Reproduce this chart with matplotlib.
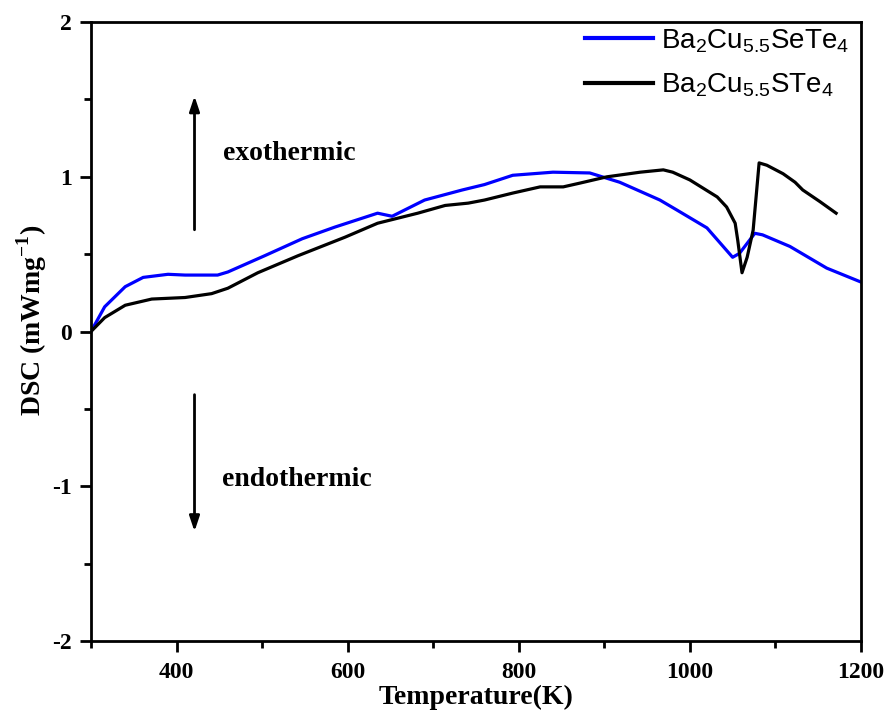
import matplotlib
matplotlib.use("Agg")
import matplotlib.pyplot as plt
from matplotlib.ticker import MultipleLocator

plt.rcParams["axes.unicode_minus"] = False

# ---- data (T in K, DSC in mW/mg) ----
t_sete = [300, 316, 340, 361, 390, 410, 448, 460, 503, 547, 585, 635, 652, 690, 734, 760,
          793, 840, 883, 918, 965, 985, 1020, 1050, 1058, 1076, 1085, 1117, 1160, 1200]
dsc_sete = [0.00, 0.16, 0.29, 0.35, 0.37, 0.365, 0.365, 0.385, 0.49, 0.60, 0.675, 0.765, 0.745, 0.85, 0.915, 0.95,
            1.01, 1.03, 1.025, 0.965, 0.85, 0.785, 0.67, 0.48, 0.505, 0.635, 0.625, 0.55, 0.41, 0.32]

t_ste = [300, 316, 340, 371, 410, 441, 460, 495, 542, 597, 635, 682, 714, 741, 760,
         793, 825, 852, 872, 903, 942, 969, 980, 1000, 1032, 1043, 1053, 1056, 1061, 1067,
         1074, 1081, 1090, 1109, 1123, 1132, 1152, 1171]
dsc_ste = [0.00, 0.09, 0.17, 0.21, 0.22, 0.245, 0.28, 0.38, 0.49, 0.61, 0.70, 0.765, 0.815, 0.83, 0.85,
           0.895, 0.935, 0.935, 0.96, 1.00, 1.03, 1.045, 1.03, 0.98, 0.87, 0.805, 0.70, 0.59, 0.38, 0.48,
           0.655, 1.09, 1.075, 1.02, 0.965, 0.915, 0.84, 0.765]

labels = [r"Ba$_\mathregular{2}$Cu$_\mathregular{5.5}$SeTe$_\mathregular{4}$",
          r"Ba$_\mathregular{2}$Cu$_\mathregular{5.5}$STe$_\mathregular{4}$"]

SERIF = "Liberation Serif"
SANS = "Liberation Sans"

fig = plt.figure(figsize=(8.86, 7.13), dpi=100)
ax = fig.add_axes([0.1027, 0.101, 0.869, 0.868])

ax.plot(t_sete, dsc_sete, color="#0000ff", lw=2.3, label=labels[0])
ax.plot(t_ste, dsc_ste, color="black", lw=2.3, label=labels[1])

ax.set_xlim(300, 1200)
ax.set_ylim(-2, 2)
ax.xaxis.set_major_locator(MultipleLocator(200))
ax.xaxis.set_minor_locator(MultipleLocator(100))
ax.yaxis.set_major_locator(MultipleLocator(1))
ax.yaxis.set_minor_locator(MultipleLocator(0.5))
ax.tick_params(which="both", direction="out", width=2, top=False, right=False)
ax.tick_params(which="major", length=8)
ax.tick_params(which="minor", length=5)
ax.tick_params(axis="x", which="major", pad=7)
ax.tick_params(axis="y", which="major", pad=6)
for s in ax.spines.values():
    s.set_linewidth(2)

for lab in ax.get_xticklabels() + ax.get_yticklabels():
    lab.set_fontfamily(SERIF)
    lab.set_fontweight("bold")
    lab.set_fontsize(17)

ax.set_xlabel("Temperature(K)", fontfamily=SERIF, fontweight="bold", fontsize=20)
ax.set_ylabel(r"DSC (mWmg$^\mathregular{-1}$)", fontfamily=SERIF, fontweight="bold", fontsize=20)
ax.xaxis.set_label_coords(0.5, -0.071)
ax.yaxis.set_label_coords(-0.054, 0.518)

# exo / endo arrows
ax.annotate("", xy=(421, 1.54), xytext=(421, 0.64),
            arrowprops=dict(arrowstyle="-|>,head_length=0.9,head_width=0.3", color="black", lw=2))
ax.annotate("", xy=(421, -1.31), xytext=(421, -0.39),
            arrowprops=dict(arrowstyle="-|>,head_length=0.9,head_width=0.3", color="black", lw=2))
ax.text(454, 1.11, "exothermic", fontfamily=SERIF, fontweight="bold", fontsize=20, va="baseline")
ax.text(453, -1.0, "endothermic", fontfamily=SERIF, fontweight="bold", fontsize=20, va="baseline")

leg = ax.legend(loc="upper right", frameon=False, prop={"family": SANS, "size": 20},
                handlelength=2.45, handletextpad=0.3, borderaxespad=0.0, labelspacing=0.6,
                bbox_to_anchor=(1.0, 1.01))
for ln in leg.get_lines():
    ln.set_linewidth(3)

fig.savefig("out.png", dpi=100)
